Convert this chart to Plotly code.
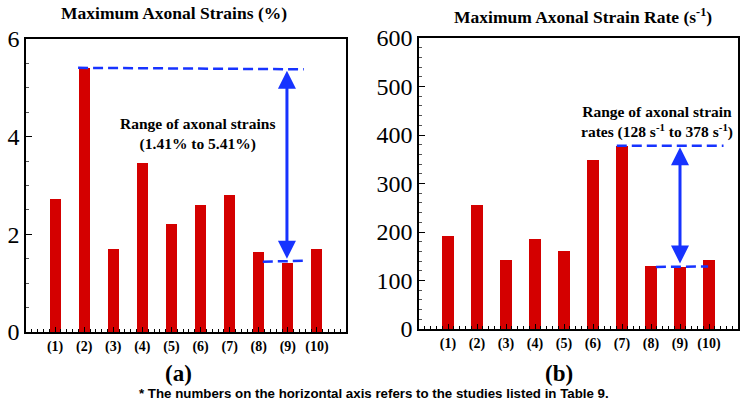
import plotly.graph_objects as go

studies = ["(1)", "(2)", "(3)", "(4)", "(5)", "(6)", "(7)", "(8)", "(9)", "(10)"]
positions = [1, 2, 3, 4, 5, 6, 7, 8, 9, 10]
strains = [2.72, 5.41, 1.69, 3.47, 2.21, 2.61, 2.81, 1.63, 1.41, 1.70]
strain_rates = [192, 255, 142, 186, 160, 349, 378, 130, 128, 142]

strain_min, strain_max = 1.41, 5.41
rate_min, rate_max = 128, 378

RED = "#d40000"
BLUE = "#1733ff"
SERIF = "Liberation Serif"
DASH = "10px,5px"

fig = go.Figure()
fig.add_trace(go.Bar(x=positions, y=strains, marker_color=RED, marker_line_width=0, width=0.38,
                     xaxis="x", yaxis="y", showlegend=False, hoverinfo="skip"))
fig.add_trace(go.Bar(x=positions, y=strain_rates, marker_color=RED, marker_line_width=0, width=0.38,
                     xaxis="x2", yaxis="y2", showlegend=False, hoverinfo="skip"))

def xax(domain, anchor):
    return dict(domain=domain, anchor=anchor, range=[0, 11], tickvals=positions,
                ticktext=studies, ticks="inside", ticklen=5, tickcolor="black",
                showline=True, linecolor="black", linewidth=1.5, mirror=True,
                showgrid=False, zeroline=False, automargin=False,
                tickfont=dict(family=SERIF, size=14, color="black", weight="bold"),
                minor=dict(tick0=0, dtick=0.2, ticks="inside", ticklen=3,
                           tickcolor="black", showgrid=False))

def yax(domain, anchor, rng, dtick, mdtick):
    return dict(domain=domain, anchor=anchor, range=rng, dtick=dtick,
                ticks="inside", ticklen=6, tickcolor="black",
                showline=True, linecolor="black", linewidth=1.5, mirror=True,
                showgrid=False, zeroline=False, automargin=False,
                tickfont=dict(family=SERIF, size=24, color="black"),
                minor=dict(dtick=mdtick, ticks="inside", ticklen=3,
                           tickcolor="#555", showgrid=False))

W, H = 750, 404
fig.update_layout(
    template="none",
    width=W, height=H, margin=dict(l=0, r=0, t=0, b=0, autoexpand=False),
    plot_bgcolor="white", paper_bgcolor="white", bargap=0,
    xaxis=xax([26 / W, 346 / W], "y"),
    yaxis=yax([1 - 332 / H, 1 - 39 / H], "x", [0, 6], 2, 0.5),
    xaxis2=xax([419 / W, 738 / W], "y2"),
    yaxis2=yax([1 - 329 / H, 1 - 38 / H], "x2", [0, 600], 100, 20),
)

# dashed range lines
fig.add_shape(type="line", xref="x", yref="y", x0=1.79, x1=9.55,
              y0=strain_max, y1=strain_max - 0.03, line=dict(color=BLUE, width=2.5, dash=DASH))
fig.add_shape(type="line", xref="x", yref="y", x0=8.14, x1=9.66,
              y0=strain_min + 0.03, y1=strain_min + 0.05, line=dict(color=BLUE, width=2.5, dash=DASH))
fig.add_shape(type="line", xref="x2", yref="y2", x0=6.82, x1=10.5,
              y0=rate_max, y1=rate_max, line=dict(color=BLUE, width=2.5, dash=DASH))
fig.add_shape(type="line", xref="x2", yref="y2", x0=8.17, x1=9.97,
              y0=rate_min, y1=rate_min + 1, line=dict(color=BLUE, width=2.5, dash=DASH))

# double arrows
for xr, yr, xv, y0, y1 in [("x", "y", 8.97, strain_min + 0.06, strain_max - 0.06),
                           ("x2", "y2", 9.0, rate_min + 4, rate_max - 3)]:
    fig.add_annotation(x=xv, y=y1, ax=xv, ay=y0, xref=xr, yref=yr, axref=xr, ayref=yr,
                       showarrow=True, arrowhead=2, startarrowhead=2, arrowside="end+start",
                       arrowsize=1.2, startarrowsize=1.2, arrowwidth=3, arrowcolor=BLUE, text="")

def label(x, y, text, size, family=SERIF, ref="paper"):
    fig.add_annotation(x=x, y=y, xref="paper" if ref == "paper" else ref[0],
                       yref="paper" if ref == "paper" else ref[1],
                       xanchor="center", yanchor="middle", showarrow=False, text=text,
                       font=dict(family=family, size=size, color="black", weight="bold"))

label(5.91, 4.05, "Range of axonal strains<br>(1.41% to 5.41%)", 15.5, ref=("x", "y"))
label(8.2, 426, "Range of axonal strain<br>rates (128 s<sup>-1</sup> to 378 s<sup>-1</sup>)", 15.5,
      ref=("x2", "y2"))

label(174 / W, 1 - 13 / H, "Maximum Axonal Strains (%)", 17.5)
label(582.5 / W, 1 - 16 / H, "Maximum Axonal Strain Rate (s<sup>-1</sup>)", 17.5)
label(178 / W, 1 - 373 / H, "(a)", 23)
label(559 / W, 1 - 373 / H, "(b)", 23)
label(374 / W, 1 - 393 / H,
      "* The numbers on the horizontal axis refers to the studies listed in Table 9.",
      13.3, family="Liberation Sans")

fig.write_html("out.html", config={"displayModeBar": False},
               post_script="document.body.style.margin='0';")
